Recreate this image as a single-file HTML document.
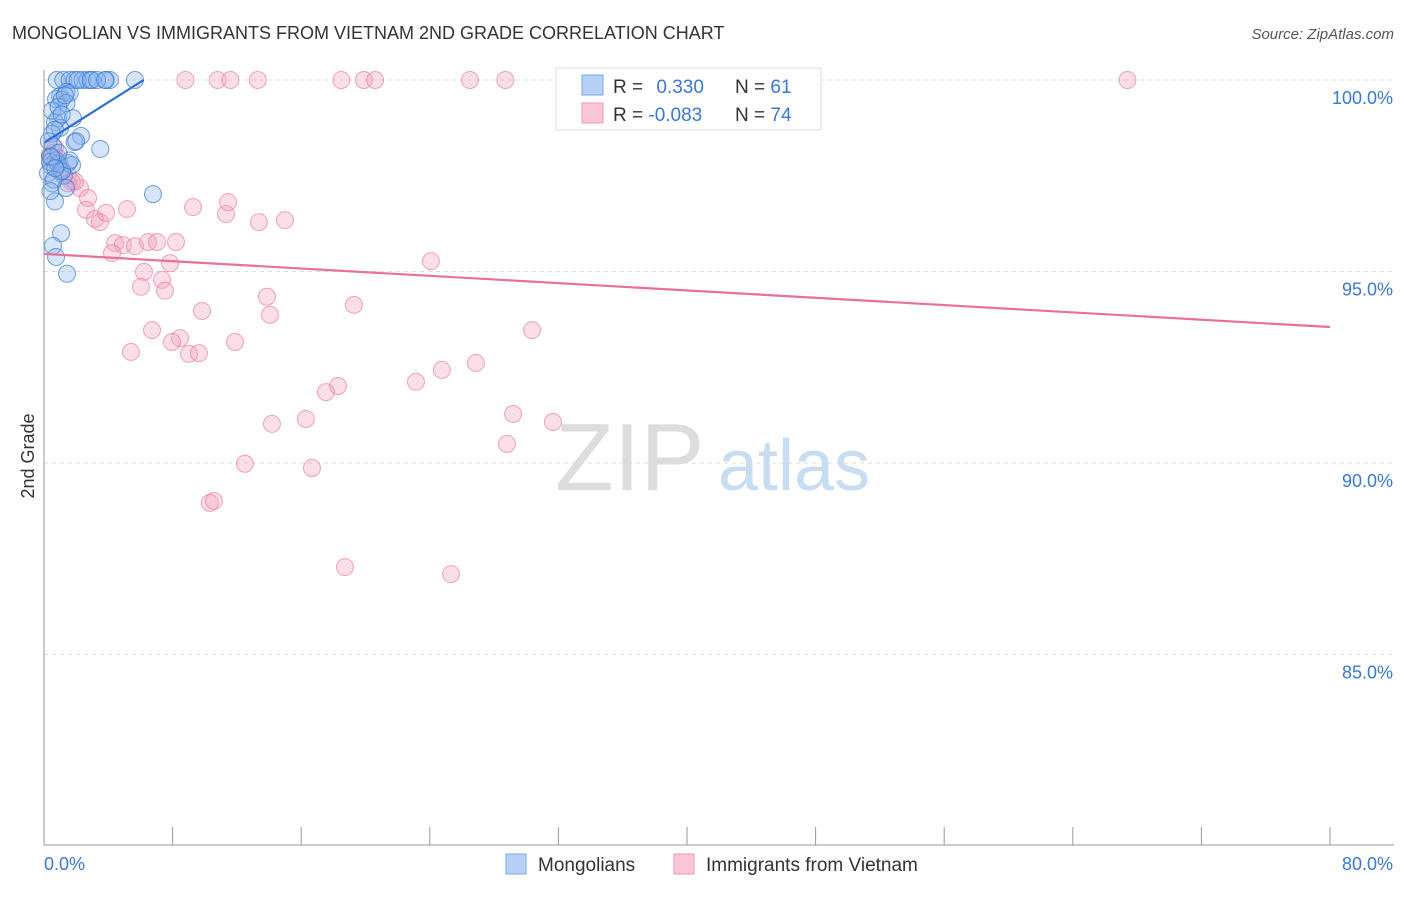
<!DOCTYPE html>
<html><head><meta charset="utf-8"><style>
body{margin:0;background:#fff;font-family:"Liberation Sans",sans-serif;}
svg text{font-family:"Liberation Sans",sans-serif;}
</style></head><body>
<svg id="chart" width="1406" height="892">
<text x="12" y="39" font-size="18" fill="#333">MONGOLIAN VS IMMIGRANTS FROM VIETNAM 2ND GRADE CORRELATION CHART</text>
<text x="1394" y="39" font-size="15" fill="#555" font-style="italic" text-anchor="end">Source: ZipAtlas.com</text>
<g id="grid"></g>
<text x="555" y="490" font-size="96" fill="#ddd" font-family="Liberation Serif">ZIP</text>
<text x="718" y="490" font-size="72" fill="#c8dcf2">atlas</text>
<g id="pts"></g>
<g id="axes"></g>
<text transform="translate(34,456) rotate(-90)" font-size="18" fill="#333" text-anchor="middle">2nd Grade</text>
<g>
<rect x="556" y="68" width="265" height="62" fill="#fff" stroke="#ddd"/>
<rect x="582" y="75" width="21" height="20" fill="#b6d1f5" stroke="#7aa7e6"/>
<rect x="582" y="103" width="21" height="20" fill="#fbc7d6" stroke="#ee9ab5"/>
<text x="613" y="93" font-size="19" fill="#333">R = <tspan fill="#3a78d4" dx="8">0.330</tspan></text>
<text x="735" y="93" font-size="19" fill="#333">N = <tspan fill="#3a78d4">61</tspan></text>
<text x="613" y="121" font-size="19" fill="#333">R = <tspan fill="#3a78d4">-0.083</tspan></text>
<text x="735" y="121" font-size="19" fill="#333">N = <tspan fill="#3a78d4">74</tspan></text>
</g>
<g>
<rect x="506" y="854" width="20" height="20" fill="#b6d1f5" stroke="#7aa7e6"/>
<text x="538" y="871" font-size="19" fill="#333">Mongolians</text>
<rect x="674" y="854" width="20" height="20" fill="#fbc7d6" stroke="#ee9ab5"/>
<text x="706" y="871" font-size="19" fill="#333">Immigrants from Vietnam</text>
</g>
</svg>
<script>
const yTicks=[100,95,90,85];
const yTickLabels=["100.0%","95.0%","90.0%","85.0%"];
const xTickLabels=["0.0%","80.0%"];
const blueX=[0.8,1.2,1.6,1.9,2.4,2.7,3.0,3.86,4.1,5.66,1.0,1.4,1.6,0.75,1.1,1.4,0.87,1.8,0.68,1.0,0.5,2.3,1.9,0.56,3.5,0.37,0.75,1.5,1.74,0.44,1.0,1.24,0.5,1.37,0.68,1.06,0.56,0.75,1.43,6.78,0.37,0.25,0.87,1.12,0.68,0.3,0.5,0.9,1.3,2.1,2.9,3.3,0.6,0.4,1.6,0.9,1.1,0.45,0.7,2.0,3.8];
const blueY=[100,100,100,100,100,100,100,100,100,100,99.58,99.69,99.66,99.5,99.48,99.4,99.0,99.0,98.9,98.75,98.6,98.54,98.38,98.28,98.2,98.0,97.9,97.83,97.78,97.76,97.62,97.5,97.3,97.18,96.83,96.0,95.67,95.38,94.94,97.02,97.86,97.57,97.81,97.62,98.7,98.4,99.2,99.3,99.6,100,100,100,97.4,97.1,97.9,98.1,99.1,98.0,97.7,98.4,100];
const pinkX=[8.8,10.8,11.6,13.3,18.5,19.9,20.6,26.5,28.7,43.3,67.4,0.68,0.87,0.37,1.12,1.49,1.74,2.24,2.74,2.61,3.17,3.48,3.86,5.16,9.27,11.32,11.45,13.37,14.99,4.42,4.91,5.66,6.47,8.21,7.03,4.23,7.84,6.22,7.34,6.03,7.53,13.87,19.28,9.83,14.06,6.72,8.46,7.96,9.02,9.64,11.88,5.41,24.07,30.36,26.87,24.75,23.14,18.29,17.54,16.29,14.18,29.18,31.66,28.8,12.5,16.67,10.32,10.57,18.72,25.32,1.49,1.93,0.6,1.0];
const pinkY=[100,100,100,100,100,100,100,100,100,100,100,98.22,97.96,98.04,97.65,97.52,97.34,97.18,96.92,96.61,96.37,96.29,96.53,96.63,96.68,96.5,96.81,96.29,96.34,95.74,95.69,95.66,95.77,95.77,95.77,95.48,95.22,94.99,94.78,94.6,94.5,94.34,94.13,93.97,93.87,93.47,93.26,93.16,92.85,92.87,93.16,92.9,95.27,93.47,92.61,92.43,92.12,92.01,91.85,91.15,91.02,91.28,91.07,90.5,89.98,89.87,88.96,89.01,87.28,87.1,97.3,97.35,98.1,97.8];
const xMax=80;
const X=v=>44+v*(1330-44)/xMax;
const Y=v=>80+(100-v)*38.3;
const NS="http://www.w3.org/2000/svg";
function mk(tag,attrs,parent){const e=document.createElementNS(NS,tag);for(const k in attrs)e.setAttribute(k,attrs[k]);parent.appendChild(e);return e;}
const grid=document.getElementById('grid'),axes=document.getElementById('axes'),pts=document.getElementById('pts');
yTicks.forEach((t,i)=>{
 const l=mk('line',{x1:44,x2:1394,y1:Y(t),y2:Y(t),stroke:'#ddd','stroke-dasharray':'4,4'},grid);
 
 
 const tx=mk('text',{x:1393,y:Y(t)+24,'font-size':18,fill:'#3a78d4','text-anchor':'end'},axes);
 tx.textContent=yTickLabels[i];
 
 
});
const a1=mk('line',{x1:44,x2:44,y1:70,y2:845,stroke:'#999'},axes);


const a2=mk('line',{x1:44,x2:1394,y1:845,y2:845,stroke:'#999'},axes);


for(let i=0;i<=10;i++){
 const t=mk('line',{x1:X(i*8),x2:X(i*8),y1:827,y2:845,stroke:'#999'},axes);
 
 
}
[[0,'start',44],[80,'end',1393]].forEach((d,i)=>{
 const tx=mk('text',{x:d[2],y:870,'font-size':18,fill:'#3a78d4','text-anchor':d[1]},axes);
 tx.textContent=xTickLabels[i];
 
 
});
pinkX.forEach((x,i)=>{
 const c=mk('circle',{cx:X(x),cy:Y(pinkY[i]),r:8.5,fill:'rgba(244,160,190,0.35)',stroke:'rgba(230,110,150,0.6)'},pts);
 
 
});
blueX.forEach((x,i)=>{
 const c=mk('circle',{cx:X(x),cy:Y(blueY[i]),r:8.5,fill:'rgba(140,180,240,0.35)',stroke:'rgba(50,120,210,0.7)'},pts);
 
 
});
const t1=mk('line',{x1:X(0),y1:Y(98.36),x2:X(6.2),y2:Y(100),stroke:'#2a6fd0','stroke-width':2.2},pts);


const t2=mk('line',{x1:X(0),y1:Y(95.46),x2:X(80),y2:Y(93.55),stroke:'#e8709a','stroke-width':2.2},pts);


</script>
</body></html>
